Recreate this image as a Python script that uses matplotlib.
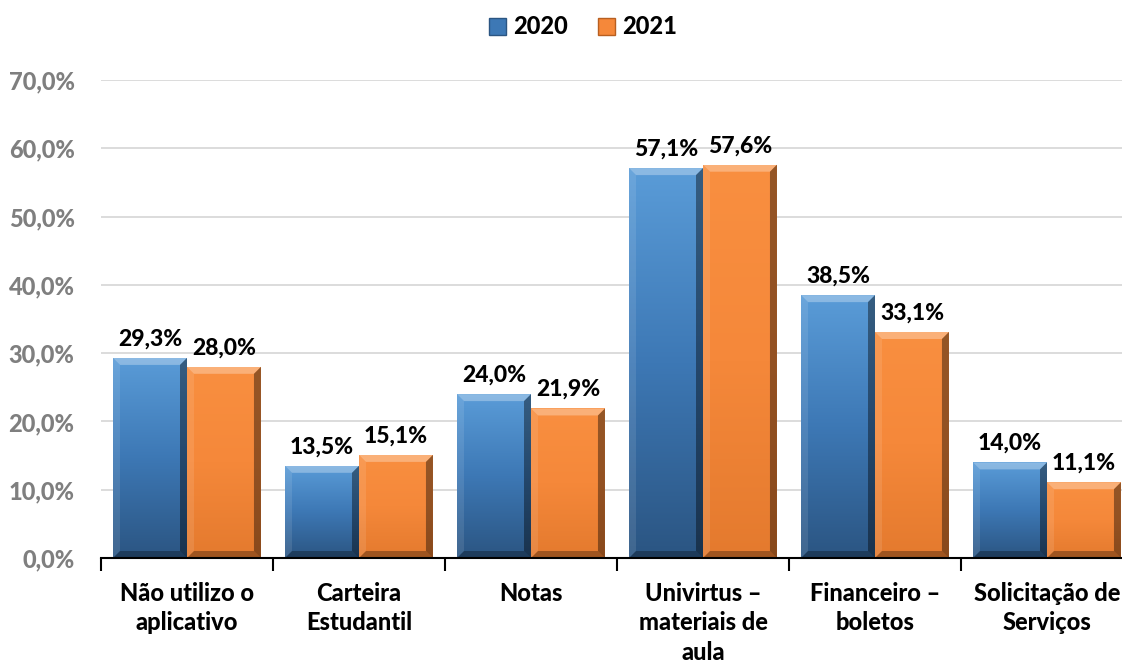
import matplotlib
matplotlib.use("Agg")
import matplotlib.pyplot as plt
import numpy as np
from matplotlib.patches import Polygon, Patch
from matplotlib.colors import LinearSegmentedColormap

plt.rcParams['font.family'] = ['Lato', 'DejaVu Sans']

categories = ["Não utilizo o\naplicativo", "Carteira\nEstudantil", "Notas",
              "Univirtus –\nmateriais de\naula", "Financeiro –\nboletos",
              "Solicitação de\nServiços"]
series_names = ["2020", "2021"]
values_2020 = [29.3, 13.5, 24.0, 57.1, 38.5, 14.0]
values_2021 = [28.0, 15.1, 21.9, 57.6, 33.1, 11.1]
yticks = [0, 10, 20, 30, 40, 50, 60, 70]

W, H = 1122, 668
fig = plt.figure(figsize=(W / 100, H / 100), dpi=100)
ax = fig.add_axes([101 / W, 110 / H, 1032 / W, 478 / H])
ax.set_xlim(-0.5, 5.5)
ax.set_ylim(0, 70)

x = np.arange(len(categories))
bw = 0.43

blue_cmap = LinearSegmentedColormap.from_list("b", ["#5a9cd8", "#3d78b5", "#2b5582"])
orange_cmap = LinearSegmentedColormap.from_list("o", ["#f98f40", "#f5883a", "#e47a2e"])

px_x = 6.0 / 1032.0
px_y = 70.0 / 478.0
bx = 7 * px_x
by = 7 * px_y

WEIGHT = 900

def bevel_bars(bars, cmap):
    grad = np.linspace(1, 0, 256).reshape(-1, 1)
    for b in bars:
        x0 = b.get_x(); w = b.get_width(); h = b.get_height()
        x1 = x0 + w
        im = ax.imshow(1 - grad, cmap=cmap, extent=[x0, x1, 0, h], aspect='auto',
                       zorder=2, vmin=0, vmax=1)
        im.set_clip_path(b)
        bxx = min(bx, w / 2); byy = min(by, h / 2)
        top = [(x0, h), (x1, h), (x1 - bxx, h - byy), (x0 + bxx, h - byy)]
        left = [(x0, 0), (x0, h), (x0 + bxx, h - byy), (x0 + bxx, byy)]
        right = [(x1, 0), (x1, h), (x1 - bxx, h - byy), (x1 - bxx, byy)]
        bottom = [(x0, 0), (x1, 0), (x1 - bxx, byy), (x0 + bxx, byy)]
        for pts, col, a in [(top, "white", 0.3), (left, "white", 0.1),
                            (right, "black", 0.4), (bottom, "black", 0.3)]:
            ax.add_patch(Polygon(pts, closed=True, facecolor=col, alpha=a,
                                 edgecolor='none', zorder=3))

bars1 = ax.bar(x - bw / 2, values_2020, bw, color="#3d78b5", zorder=2, linewidth=0)
bars2 = ax.bar(x + bw / 2, values_2021, bw, color="#f5883a", zorder=2, linewidth=0)
bevel_bars(bars1, blue_cmap)
bevel_bars(bars2, orange_cmap)

for bars, vals in [(bars1, values_2020), (bars2, values_2021)]:
    for b, v in zip(bars, vals):
        ax.annotate(f"{v:.1f}%".replace(".", ","),
                    (b.get_x() + b.get_width() / 2, b.get_height()),
                    xytext=(0, 6), textcoords="offset points",
                    ha="center", va="bottom", fontsize=16.5, fontweight=WEIGHT,
                    color="black", zorder=5)

ax.set_yticks(yticks)
ax.set_yticklabels([f"{t:.1f}%".replace(".", ",") for t in yticks],
                   fontsize=17, fontweight=WEIGHT, color="#7f7f7f")
ax.tick_params(axis='y', length=0, pad=19)
ax.grid(axis='y', color="#d9d9d9", linewidth=1.3, zorder=0)
ax.set_axisbelow(True)

ax.set_xticks(x)
ax.set_xticklabels(categories, fontsize=17, fontweight=WEIGHT, color="black",
                   linespacing=1.35)
ax.tick_params(axis='x', which='major', length=0, pad=17)
ax.set_xticks(np.arange(-0.5, 6.0, 1.0), minor=True)
ax.tick_params(axis='x', which='minor', length=9, width=1.5, color="black")

for s in ["top", "right", "left"]:
    ax.spines[s].set_visible(False)
ax.spines["bottom"].set_color("black")
ax.spines["bottom"].set_linewidth(1.5)
ax.spines["bottom"].set_zorder(4)

handles = [Patch(facecolor="#3d78b5", edgecolor="#2b5582"),
           Patch(facecolor="#f5883a", edgecolor="#b85f20")]
leg = fig.legend(handles, series_names, loc="center", bbox_to_anchor=(583 / W, 1 - 27 / H),
                 ncol=2, frameon=False, prop={"weight": WEIGHT, "size": 17},
                 handlelength=0.7, handleheight=0.7, handletextpad=0.3, columnspacing=1.3)

fig.savefig("out.png", dpi=100)
